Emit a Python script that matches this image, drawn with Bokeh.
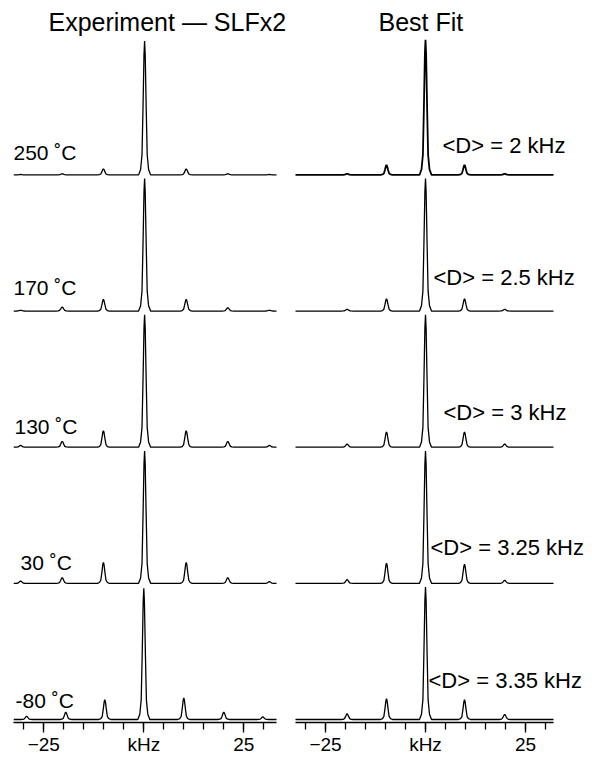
from bokeh.plotting import figure
from bokeh.layouts import row
from bokeh.models import Range1d, FixedTicker, Label, ColumnDataSource
from bokeh.embed import file_html
from bokeh.resources import INLINE

# ---------------- data ----------------
panel_titles = ["Experiment \u2014 SLFx2", "Best Fit"]
temperatures = ["250 \u02daC", "170 \u02daC", "130 \u02daC", "30 \u02daC", "-80 \u02daC"]
fit_labels = ["<D> = 2 kHz", "<D> = 2.5 kHz", "<D> = 3 kHz", "<D> = 3.25 kHz", "<D> = 3.35 kHz"]

# peak positions (kHz) and heights (% of centre band), one list per row, top to bottom
exp_positions = [
    [-30.8, -20.4, -10.1, 0.2, 10.6, 21.0, 31.4],
    [-30.8, -20.4, -10.1, 0.2, 10.6, 21.0, 31.4],
    [-30.8, -20.4, -10.1, 0.2, 10.6, 21.0, 31.4],
    [-30.8, -20.4, -10.1, 0.2, 10.6, 21.0, 31.4],
    [-29.3, -19.5, -9.75, 0.0, 10.0, 20.0, 29.75],
]
exp_heights = [
    [0.3, 0.8, 4.5, 101, 4.5, 0.8, 0.3],
    [0.5, 3.0, 8.8, 100, 8.8, 2.5, 0.5],
    [1.3, 4.3, 12.5, 100, 12.5, 4.3, 1.3],
    [1.7, 4.3, 15.8, 100, 15.8, 4.3, 1.3],
    [2.5, 5.5, 15.0, 99, 16.3, 5.5, 2.0],
]
fit_positions = [
    [-19.6, -9.75, 0.0, 9.75, 19.8],
    [-19.6, -9.75, 0.0, 9.75, 19.8],
    [-19.6, -9.75, 0.0, 9.75, 19.8],
    [-19.6, -9.75, 0.0, 9.75, 19.8],
    [-19.6, -9.75, 0.0, 9.75, 19.8],
]
fit_heights = [
    [0.8, 7.5, 102, 7.5, 0.8],
    [1.3, 9.2, 100, 9.2, 1.3],
    [2.3, 11.5, 100, 11.5, 2.3],
    [2.8, 15.3, 100, 14.5, 2.3],
    [4.3, 15.8, 100, 15.0, 3.8],
]

tick_values = [-25, 0, 25]
tick_labels = ["\u221225", "kHz", "25"]
minor_tick_values = [-30, -25, -20, -15, -10, -5, 0, 5, 10, 15, 20, 25, 30]

# ---------------- layout / style constants ----------------
FONT = "Liberation Sans"
PX_PER_KHZ = 4.0
PX_PER_UNIT = 1.33
ROW_STEP = 102.8
FIG_H = 757
BORDER_BOTTOM = 32
FRAME_H = FIG_H - BORDER_BOTTOM
Y0 = -3.0 / PX_PER_UNIT
Y1 = Y0 + FRAME_H / PX_PER_UNIT
LABEL_RAISE = 9  # px correction for text placement

# line-shape template (offsets in kHz, fraction of peak height)
SHAPE_DX = [-1.5, -1.0, -0.65, -0.4, -0.15, 0.0, 0.15, 0.4, 0.65, 1.0, 1.5]
SHAPE_FR = [0.0, 0.04, 0.15, 0.5, 0.9, 1.0, 0.9, 0.5, 0.15, 0.04, 0.0]


def page_to_y(page_y):
    return Y0 + (FRAME_H - page_y) / PX_PER_UNIT


def spectrum(xmin, xmax, positions, heights, offset):
    xs, ys = [xmin], [offset]
    for pos, h in zip(positions, heights):
        for dx, fr in zip(SHAPE_DX, SHAPE_FR):
            xs.append(pos + dx)
            ys.append(offset + h * fr)
    xs.append(xmax)
    ys.append(offset)
    return ColumnDataSource(dict(x=xs, y=ys))


def make_fig(width, xr, bounds, mbl, mbr):
    p = figure(width=width, height=FIG_H, x_range=Range1d(*xr), y_range=Range1d(Y0, Y1),
               output_backend="svg", toolbar_location=None, y_axis_location=None,
               min_border_left=mbl, min_border_right=mbr, min_border_top=0,
               min_border_bottom=BORDER_BOTTOM)
    p.grid.visible = False
    p.outline_line_color = None
    p.background_fill_color = "white"
    p.border_fill_color = "white"
    ax = p.xaxis[0]
    ax.bounds = bounds
    ax.ticker = FixedTicker(ticks=tick_values, minor_ticks=minor_tick_values)
    ax.major_label_overrides = {v: t for v, t in zip(tick_values, tick_labels)}
    ax.axis_line_width = 1.5
    ax.axis_line_color = "black"
    ax.major_tick_line_width = 1.3
    ax.minor_tick_line_width = 1.3
    ax.major_tick_line_color = "black"
    ax.minor_tick_line_color = "black"
    ax.major_tick_in = 0
    ax.minor_tick_in = 0
    ax.major_tick_out = 10
    ax.minor_tick_out = 7
    ax.major_label_standoff = 1
    ax.major_label_text_font = FONT
    ax.major_label_text_font_size = "19px"
    ax.major_label_text_color = "black"
    return p


# left panel: axis page x 13..276 (frame 13..290); right panel: axis page x 295..553 (frame 290..592)
left_bounds = (-32.575, 33.175)
left_xr = (-32.575, -32.575 + 277 / PX_PER_KHZ)
right_bounds = (-32.5, 32.0)
right_xr = (-33.75, -33.75 + 302 / PX_PER_KHZ)
p1 = make_fig(290, left_xr, left_bounds, 13, 0)
p2 = make_fig(302, right_xr, right_bounds, 0, 0)

n = len(temperatures)
for k in range(n):
    off = (n - 1 - k) * ROW_STEP
    p1.line("x", "y", source=spectrum(left_bounds[0], left_bounds[1], exp_positions[k], exp_heights[k], off),
            line_color="black", line_width=1.3)
    p2.line("x", "y", source=spectrum(right_bounds[0], right_bounds[1], fit_positions[k], fit_heights[k], off),
            line_color="black", line_width=1.8 if k == 0 else 1.3)

# titles
p1.add_layout(Label(x=(48 - 143.3) / PX_PER_KHZ, y=page_to_y(31 - LABEL_RAISE), text=panel_titles[0],
                    text_font=FONT, text_font_size="25px", text_baseline="alphabetic",
                    text_align="left", text_color="black"))
p2.add_layout(Label(x=(378 - 425) / PX_PER_KHZ, y=page_to_y(31 - LABEL_RAISE), text=panel_titles[1],
                    text_font=FONT, text_font_size="25px", text_baseline="alphabetic",
                    text_align="left", text_color="black"))

# row labels: (page x, baseline offset above row baseline in px)
temp_x = [13, 13, 14, 20, 15]
temp_dy = [13, 15, 12, 12, 10]
fit_x = [442, 433, 443, 430, 428]
fit_dy = [20, 25, 26, 27, 30]
for k in range(n):
    off = (n - 1 - k) * ROW_STEP
    p1.add_layout(Label(x=(temp_x[k] - 143.3) / PX_PER_KHZ,
                        y=off + (temp_dy[k] + LABEL_RAISE) / PX_PER_UNIT,
                        text=temperatures[k], text_font=FONT, text_font_size="21px",
                        text_baseline="alphabetic", text_align="left", text_color="black"))
    p2.add_layout(Label(x=(fit_x[k] - 425) / PX_PER_KHZ,
                        y=off + (fit_dy[k] + LABEL_RAISE) / PX_PER_UNIT,
                        text=fit_labels[k], text_font=FONT, text_font_size="22px",
                        text_baseline="alphabetic", text_align="left", text_color="black"))

layout = row(p1, p2)
open("out.html", "w").write(file_html(layout, INLINE))
